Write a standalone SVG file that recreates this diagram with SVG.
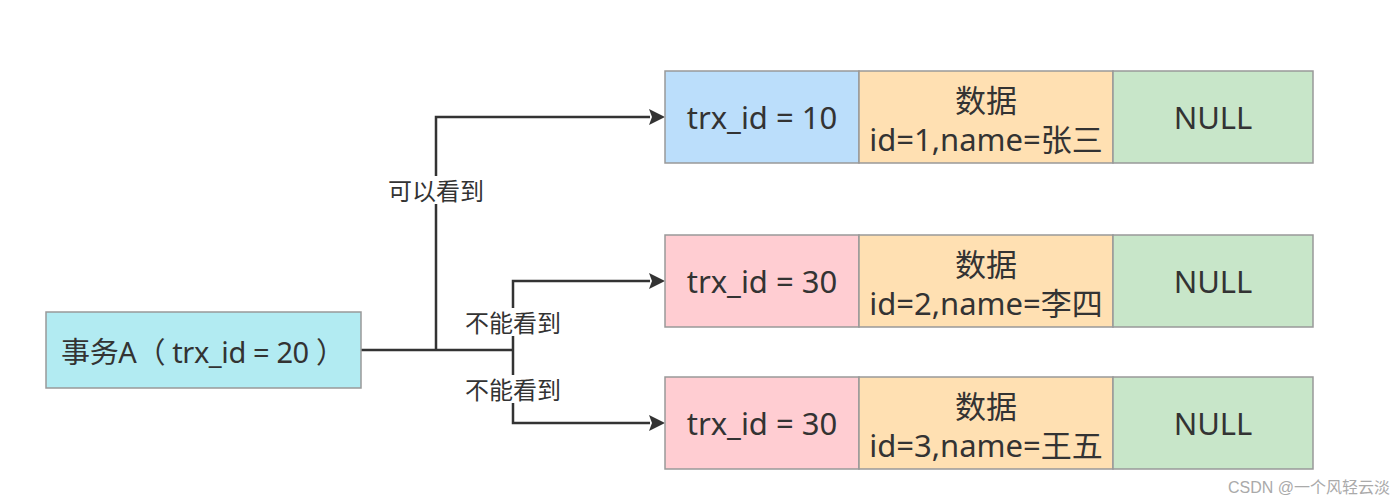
<svg xmlns="http://www.w3.org/2000/svg" width="1400" height="504" viewBox="0 0 1400 504">
<defs>
<style>
.cell{stroke:#999;stroke-width:1.5}
.t{font-family:"Noto Sans","Noto Sans CJK SC",sans-serif;fill:#333;text-anchor:middle;dominant-baseline:central}
.big{font-size:31px}
.lbl{font-size:24px}
.ln{fill:none;stroke:#333;stroke-width:2.5}
</style>
</defs>
<rect width="1400" height="504" fill="#fff"/>
<g id="connectors">
<path class="ln" d="M361,350 H513"/>
<path class="ln" d="M436,350 V117 H650" />
<path class="ln" d="M513,350 V281 H650"/>
<path class="ln" d="M513,350 V423 H650"/>
<path d="M649,109 L665,117 L649,125 L652,117 Z" fill="#333"/>
<path d="M649,273 L665,281 L649,289 L652,281 Z" fill="#333"/>
<path d="M649,415 L665,423 L649,431 L652,423 Z" fill="#333"/>
<rect x="386" y="176" width="100" height="28" fill="#fff"/>
<text class="t lbl" x="436" y="190">可以看到</text>
<rect x="463" y="308" width="100" height="28" fill="#fff"/>
<text class="t lbl" x="513" y="322">不能看到</text>
<rect x="463" y="375" width="100" height="28" fill="#fff"/>
<text class="t lbl" x="513" y="389">不能看到</text>
</g>
<g id="txA">
<rect class="cell" x="46" y="312" width="315" height="76" fill="#b2ebf2"/>
<text class="t" x="203" y="351" font-size="29" textLength="284" lengthAdjust="spacing">事务A（ trx_id = 20 ）</text>
</g>
<g id="row1">
<rect class="cell" x="665" y="71" width="194" height="92" fill="#bbdefb"/>
<rect class="cell" x="859" y="71" width="254" height="92" fill="#ffe0b2"/>
<rect class="cell" x="1113" y="71" width="200" height="92" fill="#c8e6c9"/>
<text class="t big" x="762" y="117">trx_id = 10</text>
<text class="t big" x="986" y="100">数据</text>
<text class="t big" x="986" y="139">id=1,name=张三</text>
<text class="t big" x="1213" y="117">NULL</text>
</g>
<g id="row2">
<rect class="cell" x="665" y="235" width="194" height="92" fill="#ffcdd2"/>
<rect class="cell" x="859" y="235" width="254" height="92" fill="#ffe0b2"/>
<rect class="cell" x="1113" y="235" width="200" height="92" fill="#c8e6c9"/>
<text class="t big" x="762" y="281">trx_id = 30</text>
<text class="t big" x="986" y="264">数据</text>
<text class="t big" x="986" y="303">id=2,name=李四</text>
<text class="t big" x="1213" y="281">NULL</text>
</g>
<g id="row3">
<rect class="cell" x="665" y="377" width="194" height="92" fill="#ffcdd2"/>
<rect class="cell" x="859" y="377" width="254" height="92" fill="#ffe0b2"/>
<rect class="cell" x="1113" y="377" width="200" height="92" fill="#c8e6c9"/>
<text class="t big" x="762" y="423">trx_id = 30</text>
<text class="t big" x="986" y="406">数据</text>
<text class="t big" x="986" y="445">id=3,name=王五</text>
<text class="t big" x="1213" y="423">NULL</text>
</g>
<text x="1390" y="487" font-family="'Liberation Sans','Noto Sans CJK SC',sans-serif" font-size="16" fill="#aaa" text-anchor="end" dominant-baseline="central">CSDN @一个风轻云淡</text>
</svg>
